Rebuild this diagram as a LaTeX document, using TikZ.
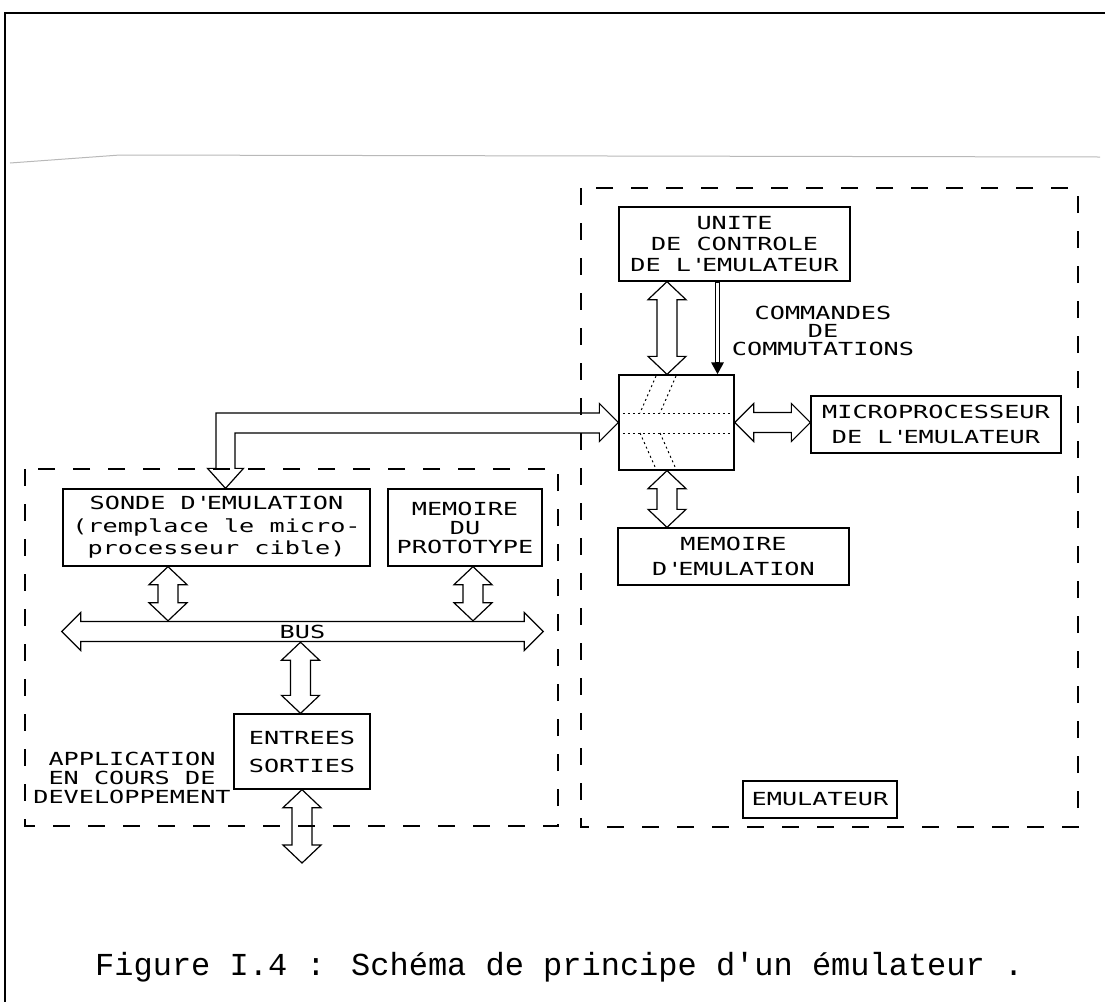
\documentclass[tikz,border=0pt]{standalone}
\usepackage{fontspec}
\usetikzlibrary{arrows.meta, calc}
\newfontfamily\plotfont[FakeStretch=1.4]{DejaVu Sans Mono}
\newfontfamily\capfont{Liberation Mono}
\newcommand{\pf}[1]{\plotfont\fontsize{18}{#1}\selectfont}

\begin{document}
\begin{tikzpicture}[x=1pt, y=-1pt,
    box/.style={rectangle, draw, line width=1.3pt, inner sep=0pt, align=center, font=\pf{21}},
    frame/.style={line width=1.4pt, dash pattern=on 17pt off 18pt},
    fat/.style={line width=1.2pt, line join=miter},
    fatv/.style={fat, to path={let \p1=(\tikztostart), \p2=(\tikztotarget) in
        (\x1,\y1) -- (\x1+19pt,\y1-18pt) -- (\x1+10pt,\y1-18pt) -- (\x1+10pt,\y2+18pt) -- (\x1+19pt,\y2+18pt)
        -- (\x1,\y2) -- (\x1-19pt,\y2+18pt) -- (\x1-10pt,\y2+18pt) -- (\x1-10pt,\y1-18pt) -- (\x1-19pt,\y1-18pt) -- cycle}},
    fath/.style={fat, to path={let \p1=(\tikztostart), \p2=(\tikztotarget) in
        (\x1,\y1) -- (\x1+19pt,\y1+19pt) -- (\x1+19pt,\y1+10pt) -- (\x2-19pt,\y1+10pt) -- (\x2-19pt,\y1+19pt)
        -- (\x2,\y1) -- (\x2-19pt,\y1-19pt) -- (\x2-19pt,\y1-10pt) -- (\x1+19pt,\y1-10pt) -- (\x1+19pt,\y1-19pt) -- cycle}},
    fatL/.style={fat, to path={let \p1=(\tikztostart), \p2=(\tikztotarget) in
        (\x1,\y1) -- (\x1+18pt,\y1+20pt) -- (\x1+9.5pt,\y1+20pt) -- (\x1+9.5pt,\y2-10.5pt) -- (\x2-19pt,\y2-10.5pt)
        -- (\x2-19pt,\y2-19pt) -- (\x2,\y2) -- (\x2-19pt,\y2+19pt) -- (\x2-19pt,\y2+9.5pt) -- (\x1-9.5pt,\y2+9.5pt)
        -- (\x1-9.5pt,\y1+20pt) -- (\x1-18pt,\y1+20pt) -- cycle}},
    cmd/.style={line width=5pt, -{Triangle[length=12pt, width=12pt]},
        postaction={draw=white, line width=2.4pt, shorten <=1pt, shorten >=12pt, -}},
    swdots/.style={line width=1pt, dash pattern=on 2pt off 3pt}]
    \useasboundingbox (0,0) rectangle (1105,1002);

    % Page
    \draw[line width=2.4pt] (5,13) -- (1105,13);
    \draw[line width=1.6pt] (5,12) -- (5,1002);
    \draw[gray!55, line width=1pt] (10,163) -- (120,155) -- (1100,157);

    % Frames
    \draw[frame] (581,188) rectangle (1078,827);
    \draw[frame] (25,469) rectangle (558,826);

    % Nodes
    \node[box, minimum width=231pt, minimum height=74pt] (unite) at (734.5,244) {UNITE\\DE CONTROLE\\DE L\textquotesingle EMULATEUR};
    \node[align=center, font=\pf{18}] (cmdlbl) at (823,330.5) {COMMANDES\\DE\\COMMUTATIONS};
    \node[box, minimum width=115pt, minimum height=95pt] (switch) at (676.5,422.5) {};
    \node[box, minimum width=250pt, minimum height=57pt, font=\pf{25}] (micro) at (936,424.5) {MICROPROCESSEUR\\DE L\textquotesingle EMULATEUR};
    \node[box, minimum width=231pt, minimum height=57pt, font=\pf{25}] (memem) at (733.5,556.5) {MEMOIRE\\D\textquotesingle EMULATION};
    \node[box, minimum width=154pt, minimum height=37pt] (emul) at (820,799.5) {EMULATEUR};
    \node[box, minimum width=307pt, minimum height=77pt, font=\pf{22.5}] (sonde) at (216.5,527.5) {SONDE D\textquotesingle EMULATION\\(remplace le micro-\\processeur cible)};
    \node[box, minimum width=154pt, minimum height=77pt, font=\pf{19}] (proto) at (465,527.5) {MEMOIRE\\DU\\PROTOTYPE};
    \node[inner sep=0pt, minimum width=481pt, minimum height=21pt, font=\pf{21}] (bus) at (302.5,631.5) {BUS};
    \node[box, minimum width=136pt, minimum height=75pt, font=\pf{28}] (io) at (302,751.5) {ENTREES\\SORTIES};
    \node[align=center, font=\pf{19}] (app) at (132,778) {APPLICATION\\EN COURS DE\\DEVELOPPEMENT};
    \coordinate (ioout) at (301,863);
    \coordinate (cmdtop) at ([xshift=-17pt]unite.south);
    \node[anchor=base west, inner sep=0pt, font=\capfont\fontsize{32}{36}\selectfont] (caption) at (95,975)
        {Figure I.4 : Schéma de principe d\textquotesingle un émulateur .};

    % Switch paths
    \draw[swdots] ([yshift=9.5pt]switch.west) -- ([yshift=9.5pt]switch.east);
    \draw[swdots] ([yshift=-10.5pt]switch.west) -- ([yshift=-10.5pt]switch.east);
    \draw[swdots] (656,376) -- (640,413) (676,376) -- (660,413);
    \draw[swdots] (640,433) -- (656,469) (660,433) -- (676,469);

    % Arrows
    \draw[fatv] ([xshift=-67.5pt]unite.south) to (switch.north);
    \draw[cmd] (cmdtop) -- (cmdtop |- switch.north);
    \draw[fath] (switch.east) to (micro.west);
    \draw[fatv] ([xshift=-9.5pt]switch.south) to (memem.north);
    \draw[fatL] ([xshift=9pt]sonde.north) to (switch.west);
    \draw[fath] (bus.west) to (bus.east);
    \draw[fatv] ([xshift=-48.5pt]sonde.south) to (bus.north);
    \draw[fatv] ([xshift=8pt]proto.south) to (bus.north);
    \draw[fatv] ([xshift=-2pt]bus.south) to (io.north);
    \draw[fatv] (io.south) to (ioout);

\end{tikzpicture}
\end{document}
